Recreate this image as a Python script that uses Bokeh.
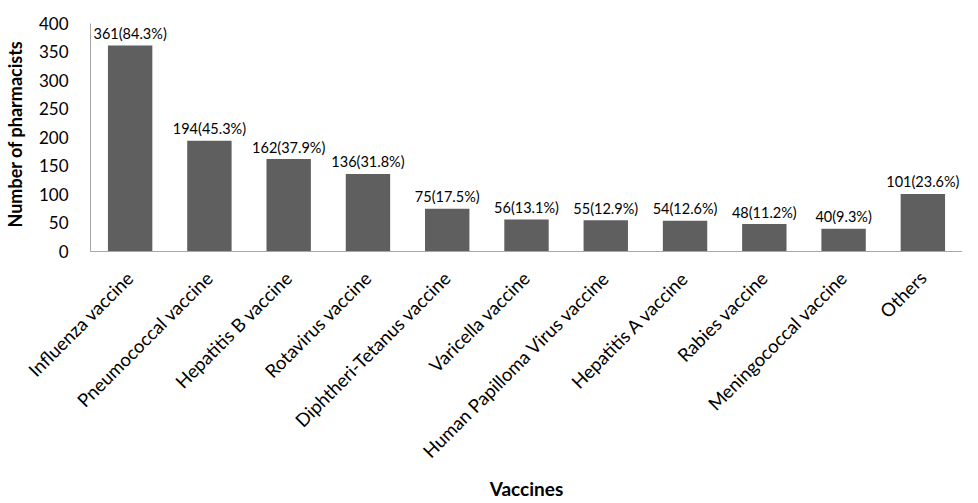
from bokeh.plotting import figure
from bokeh.models import ColumnDataSource, Range1d, FixedTicker
from bokeh.core.properties import value
from bokeh.embed import file_html
from bokeh.resources import INLINE
from math import pi

categories = ["Influenza vaccine", "Pneumococcal vaccine", "Hepatitis B vaccine",
              "Rotavirus vaccine", "Diphtheri-Tetanus vaccine", "Varicella vaccine",
              "Human Papilloma Virus vaccine", "Hepatitis A vaccine", "Rabies vaccine",
              "Meningococcal vaccine", "Others"]
counts = [361, 194, 162, 136, 75, 56, 55, 54, 48, 40, 101]
percents = ["84.3%", "45.3%", "37.9%", "31.8%", "17.5%", "13.1%", "12.9%", "12.6%",
            "11.2%", "9.3%", "23.6%"]
y_ticks = [0, 50, 100, 150, 200, 250, 300, 350, 400]

labels = [f"{c}({pc})" for c, pc in zip(counts, percents)]
src = ColumnDataSource(dict(cat=categories, val=counts, lab=labels))

FONT = "Lato"

p = figure(x_range=categories, y_range=Range1d(0, 412), width=962, height=502,
           output_backend="svg", toolbar_location=None,
           min_border_left=84, min_border_right=0, min_border_top=16,
           min_border_bottom=240)
p.outline_line_color = None
p.background_fill_color = "white"
p.grid.visible = False

p.vbar(x="cat", top="val", width=0.56, source=src, fill_color="#5f5f5f",
       line_color=None)
p.text(x="cat", y="val", text="lab", source=src, text_align="center",
       text_baseline="alphabetic", y_offset=-12, text_font=value(FONT),
       text_font_size="14.5px", text_color="#000000")

p.x_range.range_padding = 0

p.yaxis.ticker = FixedTicker(ticks=y_ticks)
p.yaxis.bounds = (0, 400)
p.yaxis.axis_line_color = "#a6a6a6"
p.yaxis.major_tick_line_color = None
p.yaxis.minor_tick_line_color = None
p.yaxis.major_tick_out = 0
p.yaxis.major_tick_in = 0
p.yaxis.major_label_standoff = 22
p.yaxis.major_label_text_font = FONT
p.yaxis.major_label_text_font_size = "17px"
p.yaxis.major_label_text_color = "#000000"
p.yaxis.axis_label = "Number of pharmacists"
p.yaxis.axis_label_text_font = FONT
p.yaxis.axis_label_text_font_style = "bold"
p.yaxis.axis_label_text_font_size = "18px"
p.yaxis.axis_label_text_color = "#000000"
p.yaxis.axis_label_standoff = 10

p.xaxis.axis_line_color = "#a6a6a6"
p.xaxis.major_tick_line_color = None
p.xaxis.minor_tick_line_color = None
p.xaxis.major_tick_out = 0
p.xaxis.major_tick_in = 0
p.xaxis.major_label_orientation = pi / 4
p.xaxis.major_label_standoff = 23
p.xaxis.major_label_text_font = FONT
p.xaxis.major_label_text_font_size = "18.5px"
p.xaxis.major_label_text_color = "#000000"
p.xaxis.axis_label = "Vaccines"
p.xaxis.axis_label_text_font = FONT
p.xaxis.axis_label_text_font_style = "bold"
p.xaxis.axis_label_text_font_size = "19px"
p.xaxis.axis_label_text_color = "#000000"
p.xaxis.axis_label_standoff = 4

open("out.html", "w").write(file_html(p, INLINE))
